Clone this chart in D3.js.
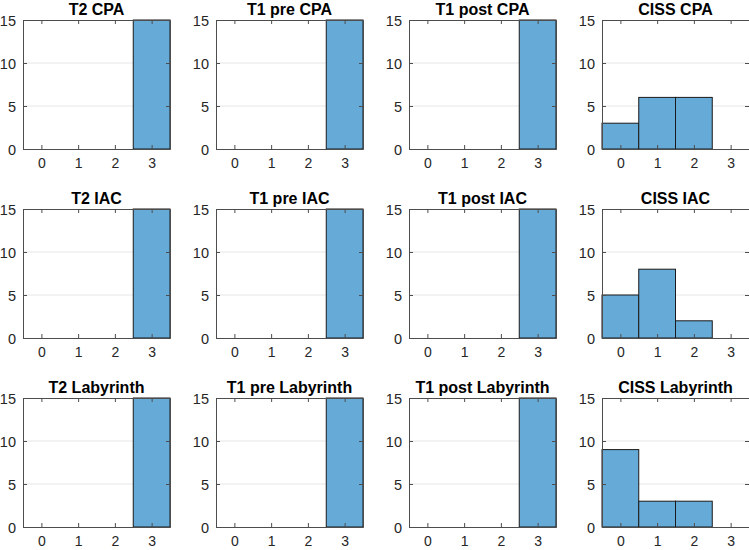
<!DOCTYPE html>
<html><head><meta charset="utf-8">
<script src="https://cdn.jsdelivr.net/npm/d3@7"></script>
<style>body{margin:0;background:#fff}svg{display:block}</style>
</head><body>
<script>
const bins = [0, 1, 2, 3];
const yTicks = [0, 5, 10, 15];
const titles = [
  "T2 CPA", "T1 pre CPA", "T1 post CPA", "CISS CPA",
  "T2 IAC", "T1 pre IAC", "T1 post IAC", "CISS IAC",
  "T2 Labyrinth", "T1 pre Labyrinth", "T1 post Labyrinth", "CISS Labyrinth"
];
const counts = [
  [0, 0, 0, 15], [0, 0, 0, 15], [0, 0, 0, 15], [3, 6, 6, 0],
  [0, 0, 0, 15], [0, 0, 0, 15], [0, 0, 0, 15], [5, 8, 2, 0],
  [0, 0, 0, 15], [0, 0, 0, 15], [0, 0, 0, 15], [9, 3, 3, 0]
];

const W = 749, H = 550;
const svg = d3.select("body").append("svg").attr("width", W).attr("height", H);
const pw = 147, ph = 129;
const lefts = [23, 216, 409, 602];
const tops = [20, 209, 398];
const font = "'Liberation Sans', Arial, Helvetica, sans-serif";

titles.forEach((t, i) => {
  const col = i % 4, row = Math.floor(i / 4);
  const g = svg.append("g").attr("transform", `translate(${lefts[col]},${tops[row]})`);
  const x = d3.scaleLinear().domain([-0.5, 3.5]).range([0, pw]);
  const y = d3.scaleLinear().domain([0, 15]).range([ph, 0]);

  // grid
  g.selectAll("line.grid").data(yTicks.slice(1, 3)).enter().append("line")
    .attr("x1", 0).attr("x2", pw).attr("y1", d => y(d)).attr("y2", d => y(d))
    .attr("stroke", "#e6e6e6").attr("stroke-width", 1);

  // bars
  const data = bins.map((b, k) => ({b, v: counts[i][k]})).filter(d => d.v > 0);
  g.selectAll("rect.bar").data(data).enter().append("rect")
    .attr("x", d => x(d.b - 0.5)).attr("width", d => x(d.b + 0.5) - x(d.b - 0.5))
    .attr("y", d => y(d.v)).attr("height", d => y(0) - y(d.v))
    .attr("fill", "rgb(102,170,215)").attr("stroke", "#1a1a1a").attr("stroke-width", 1);

  // axes
  const fmt = d3.format("d");
  const ax = g.append("g").attr("transform", `translate(0,${ph})`)
    .call(d3.axisBottom(x).tickValues(bins).tickFormat(fmt).tickSizeInner(-4).tickSizeOuter(0).tickPadding(9.5));
  const ay = g.append("g")
    .call(d3.axisLeft(y).tickValues(yTicks).tickFormat(fmt).tickSizeInner(-4).tickSizeOuter(0).tickPadding(7));
  g.append("g").call(d3.axisTop(x).tickValues(bins).tickSizeInner(-4).tickSizeOuter(0).tickFormat(""));
  g.append("g").attr("transform", `translate(${pw},0)`)
    .call(d3.axisRight(y).tickValues(yTicks).tickSizeInner(-4).tickSizeOuter(0).tickFormat(""));
  g.selectAll(".domain").attr("stroke", "#4d4d4d");
  g.selectAll(".tick line").attr("stroke", "#4d4d4d");
  g.selectAll(".tick text").attr("font-family", font).attr("font-size", 14.5).attr("fill", "#262626");
  ax.selectAll(".tick text").attr("font-size", 14);
  ay.selectAll(".tick text").attr("dy", "0.35em");

  g.append("text").attr("x", pw / 2).attr("y", -5.5).attr("text-anchor", "middle")
    .attr("font-family", font).attr("font-weight", "bold").attr("font-size", 16)
    .attr("fill", "#000").text(t);
});
</script>
</body></html>
